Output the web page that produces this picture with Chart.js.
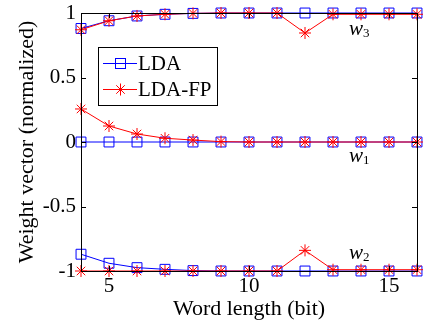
<!DOCTYPE html>
<html>
<head>
<meta charset="utf-8">
<script src="https://cdn.jsdelivr.net/npm/chart.js@4.4.0/dist/chart.umd.min.js"></script>
<style>
  html, body { margin: 0; padding: 0; background: #fff; }
  #wrap { width: 425px; height: 322px; }
</style>
</head>
<body>
<div id="wrap"><canvas id="chart"></canvas></div>
<script>
var wordLength = [4, 5, 6, 7, 8, 9, 10, 11, 12, 13, 14, 15, 16];

var ldaW3 = [0.88, 0.94, 0.977, 0.99, 0.997, 1, 1, 1, 1, 1, 1, 1, 1];
var ldaW1 = [0, 0, 0, 0, 0, 0, 0, 0, 0, 0, 0, 0, 0];
var ldaW2 = [-0.87, -0.94, -0.974, -0.987, -0.997, -1, -1, -1, -1, -1, -1, -1, -1];

var fpW3 = [0.87, 0.94, 0.977, 0.99, 0.997, 1, 1, 1, 0.845, 0.99, 0.99, 0.99, 0.99];
var fpW1 = [0.256, 0.124, 0.062, 0.029, 0.015, 0.003, 0, 0, 0, 0, 0, 0, 0];
var fpW2 = [-1, -1, -1, -1, -1, -1, -1, -1, -0.84, -0.99, -0.99, -0.99, -0.99];

var xTicks = [5, 10, 15];
var yTicks = [-1, -0.5, 0, 0.5, 1];

var SERIF = "'Liberation Serif', 'DejaVu Serif', serif";

function pts(ys) {
    return wordLength.map(function (x, i) { return { x: x, y: ys[i] }; });
}

function ldaSet(ys) {
    return {
        data: pts(ys),
        borderColor: "#0000ff",
        backgroundColor: "rgba(0,0,0,0)",
        borderWidth: 1,
        pointStyle: "rect",
        pointRadius: 7,
        pointBorderWidth: 1,
        pointBorderColor: "#0000ff",
        pointBackgroundColor: "rgba(0,0,0,0)",
        clip: false,
        order: 2
    };
}

function fpSet(ys) {
    return {
        data: pts(ys),
        borderColor: "#ff0000",
        backgroundColor: "rgba(0,0,0,0)",
        borderWidth: 1,
        pointStyle: "star",
        pointRadius: 6,
        pointBorderWidth: 1,
        pointBorderColor: "#ff0000",
        clip: false,
        order: 1
    };
}

var framePlugin = {
    id: "frame",
    afterDraw: function (chart) {
        var ctx = chart.ctx;
        var a = chart.chartArea;
        var xs = chart.scales.x, ys = chart.scales.y;
        ctx.save();
        ctx.strokeStyle = "#000";
        ctx.lineWidth = 1;
        ctx.strokeRect(Math.round(a.left) + 0.5, Math.round(a.top) + 0.5,
            Math.round(a.right - a.left), Math.round(a.bottom - a.top));
        ctx.beginPath();
        xTicks.forEach(function (v) {
            var px = Math.round(xs.getPixelForValue(v)) + 0.5;
            ctx.moveTo(px, a.bottom); ctx.lineTo(px, a.bottom - 5);
            ctx.moveTo(px, a.top); ctx.lineTo(px, a.top + 5);
        });
        yTicks.forEach(function (v) {
            var py = Math.round(ys.getPixelForValue(v)) + 0.5;
            ctx.moveTo(a.left, py); ctx.lineTo(a.left + 5, py);
            ctx.moveTo(a.right, py); ctx.lineTo(a.right - 5, py);
        });
        ctx.stroke();

        // legend
        var lx = 98, ly = 47, lw = 119, lh = 58;
        ctx.fillStyle = "#fff";
        ctx.fillRect(lx, ly, lw, lh);
        ctx.strokeRect(lx + 0.5, ly + 0.5, lw, lh);
        ctx.font = "21px " + SERIF;
        ctx.textBaseline = "middle";
        ctx.textAlign = "left";

        var y1 = 63.5, y2 = 89.5;
        ctx.strokeStyle = "#0000ff";
        ctx.beginPath();
        ctx.moveTo(103, y1); ctx.lineTo(137, y1);
        ctx.stroke();
        ctx.strokeRect(115.5, y1 - 5, 10, 10);
        ctx.fillStyle = "#000";
        ctx.fillText("LDA", 138, y1 + 1);

        ctx.strokeStyle = "#ff0000";
        ctx.beginPath();
        ctx.moveTo(103, y2); ctx.lineTo(137, y2);
        var cx = 120.5, r = 6;
        ctx.moveTo(cx - r, y2); ctx.lineTo(cx + r, y2);
        ctx.moveTo(cx, y2 - r); ctx.lineTo(cx, y2 + r);
        var d = r * 0.707;
        ctx.moveTo(cx - d, y2 - d); ctx.lineTo(cx + d, y2 + d);
        ctx.moveTo(cx - d, y2 + d); ctx.lineTo(cx + d, y2 - d);
        ctx.stroke();
        ctx.fillStyle = "#000";
        ctx.fillText("LDA-FP", 138, y2 + 1);

        // curve labels
        function wLabel(text, sub, x, y) {
            ctx.font = "italic 21px " + SERIF;
            ctx.fillText(text, x, y);
            var w = ctx.measureText(text).width;
            ctx.font = "13px " + SERIF;
            ctx.fillText(sub, x + w, y + 5);
        }
        wLabel("w", "3", 349, 29);
        wLabel("w", "1", 349, 156);
        wLabel("w", "2", 349, 253);
        ctx.restore();
    }
};

var ctx = document.getElementById("chart").getContext("2d");
var myChart = new Chart(ctx, {
    type: "line",
    data: {
        datasets: [
            ldaSet(ldaW3), ldaSet(ldaW1), ldaSet(ldaW2),
            fpSet(fpW3), fpSet(fpW1), fpSet(fpW2)
        ]
    },
    options: {
        responsive: true,
        maintainAspectRatio: false,
        animation: false,
        layout: { padding: { left: 0, right: 8, top: 13, bottom: 0 } },
        plugins: {
            legend: { display: false },
            tooltip: { enabled: false }
        },
        scales: {
            x: {
                type: "linear",
                min: 4,
                max: 16,
                afterBuildTicks: function (scale) {
                    scale.ticks = xTicks.map(function (v) { return { value: v }; });
                },
                afterFit: function (scale) {
                    scale.height = 51;
                    scale.paddingLeft = 0;
                    scale.paddingRight = 0;
                },
                grid: { display: false, drawTicks: false },
                border: { display: false },
                ticks: {
                    color: "#000",
                    padding: 3,
                    maxRotation: 0,
                    font: { family: SERIF, size: 21 }
                },
                title: {
                    display: true,
                    text: "Word length (bit)",
                    color: "#000",
                    padding: { top: 0, bottom: 0 },
                    font: { family: SERIF, size: 22 }
                }
            },
            y: {
                type: "linear",
                min: -1,
                max: 1,
                afterBuildTicks: function (scale) {
                    scale.ticks = yTicks.map(function (v) { return { value: v }; });
                },
                afterFit: function (scale) {
                    scale.width = 81;
                    scale.paddingTop = 0;
                    scale.paddingBottom = 0;
                },
                grid: { display: false, drawTicks: false },
                border: { display: false },
                ticks: {
                    color: "#000",
                    padding: 5,
                    font: { family: SERIF, size: 21 },
                    callback: function (v) { return String(v); }
                },
                title: {
                    display: true,
                    text: "Weight vector (normalized)",
                    color: "#000",
                    padding: { top: 14, bottom: 0 },
                    font: { family: SERIF, size: 22 }
                }
            }
        }
    },
    plugins: [framePlugin]
});
</script>
</body>
</html>
